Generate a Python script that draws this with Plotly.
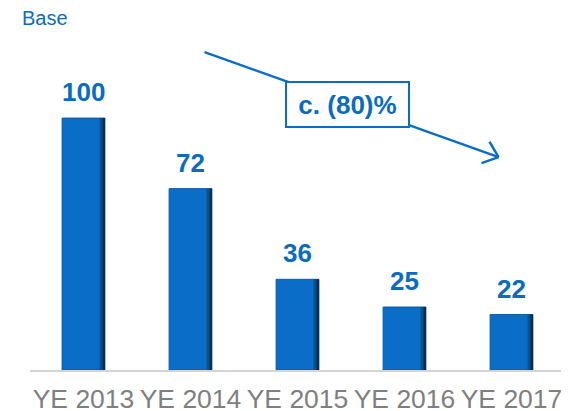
import plotly.graph_objects as go

categories = ["YE 2013", "YE 2014", "YE 2015", "YE 2016", "YE 2017"]
values = [100, 72, 36, 25, 22]
value_labels = ["100", "72", "36", "25", "22"]

BLUE = "#0a6ec8"
TEXT_BLUE = "#0a6cc0"
FONT = "Liberation Sans, Arial"

fig = go.Figure()
# main bar body
fig.add_bar(
    x=categories, y=values, width=0.4,
    marker=dict(color=BLUE, line=dict(color="#0a5aa3", width=1)),
    hoverinfo="skip",
)
# dark shading on the right edge for the bevelled look
fig.add_bar(
    x=categories, y=values, width=0.05, offset=0.15,
    marker=dict(color="#09508f", line=dict(width=0)), hoverinfo="skip",
)
fig.add_bar(
    x=categories, y=values, width=0.022, offset=0.178,
    marker=dict(color="#062b50", line=dict(width=0)), hoverinfo="skip",
)

# value labels above the bars
for cat, val, lab in zip(categories, values, value_labels):
    fig.add_annotation(
        x=cat, y=val, text=f"<b>{lab}</b>", showarrow=False,
        yanchor="bottom", yshift=9,
        font=dict(size=26, color=TEXT_BLUE, family=FONT),
    )

# trend arrow: long line plus an open chevron head
fig.add_shape(type="line", x0=1.131, y0=126.2, x1=3.879, y1=84.5,
              line=dict(color=BLUE, width=2.5))
fig.add_shape(type="line", x0=3.794, y0=90.67, x1=3.879, y1=84.5,
              line=dict(color=BLUE, width=2.5))
fig.add_shape(type="line", x0=3.720, y0=82.14, x1=3.879, y1=84.5,
              line=dict(color=BLUE, width=2.5))

fig.add_annotation(
    x=2.47, y=105.2, text="<b>c. (80)%</b>", showarrow=False,
    bgcolor="white", bordercolor=BLUE, borderwidth=2, borderpad=0,
    width=121, height=43,
    font=dict(size=26, color=TEXT_BLUE, family=FONT),
)

fig.add_annotation(
    xref="paper", yref="paper", x=-0.0187, y=1.068, xanchor="left", yanchor="middle",
    text="Base", showarrow=False,
    font=dict(size=20, color=TEXT_BLUE, family=FONT),
)

# the page body adds an 8px margin, so the figure is offset accordingly
fig.update_layout(
    width=569, height=411,
    margin=dict(l=22, r=12, t=32, b=49),
    plot_bgcolor="white", paper_bgcolor="white",
    showlegend=False, barmode="overlay",
    font=dict(family=FONT),
)
fig.update_xaxes(
    showline=True, linecolor="#d4d4d4", linewidth=2, tickangle=0,
    tickfont=dict(size=26.5, color="#7f7f7f"), ticks="", showgrid=False,
    automargin=False, ticklabelstandoff=4,
)
fig.update_yaxes(range=[0, 131], visible=False, showgrid=False, automargin=False)

fig.write_html("out.html")
